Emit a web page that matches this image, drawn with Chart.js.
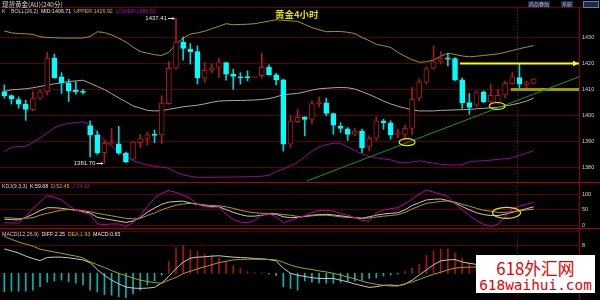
<!DOCTYPE html>
<html>
<head>
<meta charset="utf-8">
<title>黄金4小时</title>
<script src="https://cdn.jsdelivr.net/npm/chart.js@4.4.1/dist/chart.umd.min.js"></script>
<style>
  html, body { margin: 0; padding: 0; background: #000; }
  body { width: 600px; height: 300px; position: relative; overflow: hidden; font-family: "Liberation Sans", Arial, sans-serif; }
  canvas { position: absolute; left: 0; }
  .txt { position: absolute; white-space: nowrap; line-height: 1; }
  .lbl { position: absolute; left: 2px; white-space: nowrap; line-height: 1; font-size: 5.3px; word-spacing: 1.2px; color: #d0d0d0; }
  .w { color: #e8e8e8; } .y { color: #c8c000; } .m { color: #c000c0; }
  .hline { position: absolute; left: 0; width: 600px; height: 1px; }
  .btn { position: absolute; top: 1px; height: 6px; font: 5px "Noto Sans CJK SC"; line-height: 6px; color: #a8bcdc; background: #1c2c4c; padding: 0 1px; }
</style>
</head>
<body>
<canvas id="mainChart" width="600" height="175" style="top:8px"></canvas>
<canvas id="kdjChart" width="600" height="45" style="top:183px"></canvas>
<canvas id="macdChart" width="600" height="72" style="top:228px"></canvas>

<!-- panel frames -->
<div class="hline" style="top:7px;background:#700000"></div>
<div class="hline" style="top:182px;background:#b00000"></div>
<div class="hline" style="top:228px;background:#b00000"></div>
<div class="hline" style="top:231px;width:579px;background:#500000"></div>
<div style="position:absolute;left:579px;top:7px;width:1px;height:293px;background:#900000"></div>

<!-- header texts -->
<div class="txt" style="left:2px;top:1px;font-size:6.5px;font-family:'Noto Sans CJK SC';color:#d8d8d8">现货黄金(AU)(240分)</div>
<div class="btn" style="left:528px">商品叠加</div>
<div class="btn" style="left:561px">系统</div>
<div style="position:absolute;left:583px;top:1px;width:14px;height:5px;border:1px solid #6c7ca0;background:#1c2c4c"></div>

<div class="lbl" style="top:9.4px">K &nbsp;BOLL(26,2) <span class="w">MID:1406.71</span> <span class="y">UPPER:1426.92</span> <span class="m">LOWER:1386.50</span></div>
<div class="txt" style="left:275px;top:9.5px;font-size:9.5px;font-family:'Noto Sans CJK SC';font-weight:bold;color:#e0dc00">黄金4小时</div>
<div class="lbl" style="top:183.7px">KDJ(9,3,3) <span class="w">K:59.68</span> <span class="y">D:52.45</span> <span class="m">J:74.13</span></div>
<div class="lbl" style="top:231.9px">MACD(12,26,9) <span class="w">DIFF:2.25</span> <span class="y">DEA:1.93</span> <span class="w">MACD:0.65</span></div>

<!-- site watermark -->
<div style="position:absolute;left:476px;top:255px;width:119px;height:38px;background:#fff;text-align:center;color:#e60000">
  <div class="txt" style="left:0;width:119px;top:4.5px;font-size:16.8px;font-family:'Noto Sans CJK SC'">618外汇网</div>
  <div class="txt" style="left:0;width:119px;top:22.8px;font-size:14.4px;font-family:'DejaVu Sans Mono'">618waihui.com</div>
</div>

<script>
// 4h candles (index 0 = leftmost)
const opens  = [1409.2,1407.7,1406.2,1404.4,1402.3,1406.7,1409.2,1422.1,1414.9,1412.6,
                1409.9,1409.1,1396.2,1392.6,1385.8,1389.2,1389.2,1385.5,1383.3,1389.6,
                1391.2,1392.6,1392.6,1404.6,1418.2,1428.2,1425.5,1424.6,1414.4,1417.4,
                1418.5,1420.4,1415.9,1414.9,1414.7,1414.6,1415.3,1418.5,1415.7,1413.7,
                1389.0,1397.7,1399.4,1398.5,1404.6,1404.9,1400.8,1395.9,1394.9,1392.8,
                1394.1,1388.0,1391.3,1398.0,1397.1,1392.8,1392.8,1395.1,1406.7,1412.8,
                1418.2,1420.8,1421.9,1421.9,1413.7,1405.0,1404.0,1409.1,1405.3,1405.0,
                1407.9,1412.3,1414.6,1411.8,1412.4];
const highs  = [1411.8,1408.0,1407.2,1405.9,1409.2,1409.8,1424.2,1423.6,1416.5,1414.0,
                1413.0,1410.1,1398.0,1394.1,1390.3,1395.1,1395.9,1386.0,1390.0,1392.8,
                1393.7,1394.5,1407.6,1420.8,1437.41,1430.3,1427.7,1426.8,1420.4,1419.8,
                1422.1,1420.5,1417.8,1416.5,1417.2,1414.8,1423.9,1419.5,1416.2,1414.0,
                1399.9,1402.4,1399.6,1405.7,1407.2,1406.7,1401.0,1397.3,1395.4,1395.0,
                1394.8,1392.2,1399.5,1398.6,1398.0,1394.8,1396.4,1410.8,1414.0,1418.7,
                1426.8,1424.6,1423.9,1422.3,1414.4,1408.5,1409.5,1409.5,1412.1,1410.1,
                1413.3,1416.5,1419.8,1413.3,1414.2];
const lows   = [1406.7,1404.4,1402.8,1398.2,1401.8,1406.2,1407.9,1414.4,1408.5,1405.4,
                1408.2,1408.2,1384.1,1385.1,1381.7,1389.0,1385.1,1381.9,1383.1,1387.7,
                1388.7,1389.6,1389.2,1404.4,1417.8,1421.3,1419.8,1412.1,1412.7,1416.5,
                1414.6,1413.6,1410.1,1412.1,1413.3,1414.5,1414.4,1415.5,1411.8,1386.4,
                1387.7,1397.3,1392.2,1396.7,1403.3,1399.9,1392.8,1393.5,1390.5,1392.2,
                1385.8,1386.4,1390.5,1394.8,1390.9,1391.5,1390.9,1392.8,1405.7,1412.1,
                1417.8,1419.8,1419.1,1413.3,1402.8,1400.5,1403.3,1405.0,1404.6,1404.4,
                1406.9,1412.1,1410.1,1409.8,1412.1];
const closes = [1407.7,1406.4,1404.4,1402.4,1406.7,1409.1,1422.1,1414.6,1412.7,1409.5,
                1409.1,1408.9,1392.6,1385.8,1389.4,1389.6,1385.6,1382.2,1389.8,1391.2,
                1392.6,1392.4,1404.8,1418.2,1428.2,1425.8,1424.6,1414.6,1417.4,1418.3,
                1420.4,1415.9,1415.1,1414.5,1414.6,1414.7,1418.5,1415.7,1413.7,1389.0,
                1398.0,1399.3,1398.5,1404.6,1405.1,1400.8,1396.3,1395.1,1392.8,1394.1,
                1387.7,1391.3,1398.0,1397.3,1392.6,1393.5,1395.1,1406.3,1413.1,1418.1,
                1420.8,1421.9,1421.7,1413.7,1405.0,1403.1,1409.1,1405.3,1407.8,1407.8,
                1412.4,1414.9,1412.1,1412.7,1414.0];

// BOLL(26,2)
const bollUpper = [1432.5,1431.8,1431.5,1431.4,1431.2,1430.3,1430.0,1429.9,1429.8,1429.8,
                   1429.8,1429.8,1430.4,1432.2,1431.9,1431.0,1429.7,1428.3,1426.3,1424.6,
                   1424.0,1423.4,1423.1,1424.3,1427.5,1429.8,1431.3,1431.8,1432.4,1433.4,
                   1434.3,1435.3,1434.9,1435.0,1435.1,1435.3,1435.8,1436.3,1436.8,1436.6,
                   1436.4,1436.2,1435.0,1433.8,1433.0,1432.2,1432.3,1432.3,1432.0,1431.5,
                   1430.0,1428.8,1427.4,1426.8,1426.2,1424.3,1422.8,1421.5,1420.5,1420.7,
                   1421.3,1422.8,1424.0,1423.5,1422.9,1422.6,1422.8,1423.1,1423.4,1423.7,
                   1424.3,1425.0,1425.7,1426.3,1426.92];
const bollMid   = [1409.3,1409.9,1410.1,1410.3,1410.7,1411.2,1411.7,1412.2,1412.6,1413.1,
                   1413.3,1413.6,1412.4,1411.2,1410.0,1408.4,1406.8,1405.3,1403.7,1402.9,
                   1402.0,1401.8,1401.9,1402.4,1402.9,1403.4,1403.7,1404.0,1404.5,1405.1,
                   1405.6,1405.7,1405.8,1405.8,1405.9,1406.0,1406.2,1406.5,1407.2,1408.0,
                   1408.3,1408.5,1409.1,1409.8,1410.3,1410.5,1410.7,1410.8,1410.7,1410.2,
                   1409.2,1408.1,1406.9,1405.6,1404.5,1403.6,1402.9,1402.2,1401.8,1401.8,
                   1401.8,1402.0,1402.1,1402.2,1402.3,1402.4,1402.6,1402.8,1403.0,1403.2,
                   1403.7,1404.2,1404.8,1405.6,1406.71];
const bollLower = [1386.1,1387.8,1388.1,1388.2,1389.6,1391.5,1393.3,1395.3,1396.4,1397.0,
                   1397.3,1397.6,1396.5,1393.7,1390.5,1388.3,1386.0,1384.3,1382.6,1381.8,
                   1381.1,1380.5,1380.2,1379.8,1378.3,1377.2,1376.7,1376.3,1376.3,1376.3,
                   1376.4,1376.4,1376.4,1376.5,1376.5,1376.6,1376.7,1377.1,1378.5,1379.5,
                   1380.7,1382.1,1384.2,1386.3,1388.0,1388.8,1389.4,1389.4,1388.0,1386.6,
                   1385.3,1384.3,1383.8,1383.4,1383.0,1382.1,1381.9,1382.2,1382.6,1382.2,
                   1381.7,1381.3,1381.1,1381.0,1381.2,1382.2,1382.5,1382.7,1382.9,1383.2,
                   1383.4,1383.8,1384.7,1385.6,1386.50];

// KDJ(9,3,3)
const kValues = [20,19,18,26,36,48,57,57,55,52, 49,45,40,26,22,18,14,10,14,25,
                 43,56,68,75,77,78,72,68,63,61, 60,51,42,35,30,30,33,37,36,28,
                 25,26,29,33,35,36,34,31,28,25, 23,28,33,37,39,41,50,64,73,82,
                 84,85,80,72,61,50,41,35,32,32, 36,42,48,54,59.68];
const dValues = [25,24,22,23,25,33,39,44,49,51, 50,47,44,39,35,31,27,23,21,23,
                 32,40,50,58,65,69,71,69,66,64, 63,60,55,49,44,41,39,39,38,35,
                 33,29,29,31,33,33,31,28,26,25, 23,24,27,30,32,35,42,53,62,71,
                 74,77,79,75,68,62,55,49,46,42, 42,44,47,50,52.45];
const jValues = [9,8,8,28,55,75,96,90,82,63, 50,42,36,5,3,5,5,-3,9,32,
                 61,88,103,112,106,97,87,68,60,58, 60,37,19,11,9,16,35,37,28,9,
                 16,24,32,41,48,49,46,39,33,25, 16,14,40,49,54,57,70,84,100,114,
                 107,100,93,70,50,32,16,4,-3,4, 27,54,62,68,74.13];

// MACD(12,26,9)
const diffValues = [7.1,6.5,5.9,5.0,4.3,3.7,4.6,4.7,4.7,4.5, 4.2,3.9,3.1,1.1,-0.6,-2.0,-3.1,-4.0,-4.3,-4.4,
                    -4.3,-4.1,-2.8,-0.9,1.4,3.2,4.4,4.7,4.8,5.0, 5.1,4.9,4.7,4.6,4.5,4.3,4.2,4.0,3.6,1.5,
                    0.0,-0.6,-0.9,-1.3,-1.5,-1.5,-1.5,-2.0,-2.5,-3.1, -3.6,-4.1,-3.9,-3.5,-3.4,-3.6,-3.2,-2.0,-0.5,1.0,
                    2.5,3.6,3.9,4.0,3.3,2.9,2.6,2.4,2.3,2.2, 2.1,2.1,2.2,2.2,2.25];
const deaValues  = [10.7,9.9,9.1,8.5,7.9,7.0,6.6,6.2,5.8,5.4, 5.0,4.5,3.3,2.5,1.7,0.8,0.0,-0.7,-1.4,-2.0,
                    -2.4,-2.7,-2.9,-2.0,-1.2,-0.1,0.6,1.3,1.9,2.5, 3.1,3.5,3.9,4.0,4.1,4.1,4.1,4.0,3.9,3.2,
                    2.4,1.8,1.4,1.1,0.7,0.4,0.0,-0.5,-1.1,-1.6, -2.3,-2.8,-3.2,-3.5,-3.7,-3.7,-3.1,-2.5,-1.8,-1.0,
                    -0.3,0.3,1.0,1.5,1.7,1.8,1.85,1.9,1.9,1.9, 1.9,1.9,1.9,1.92,1.93];
const macdBars   = [-5.4,-5.2,-5.2,-5.2,-4.9,-3.9,-2.6,-2.2,-2.0,-2.4, -2.9,-3.4,-4.9,-5.4,-6.2,-6.4,-6.8,-7.1,-5.9,-4.9,
                    -3.4,-2.2,-0.5,3.4,7.5,8.1,6.8,6.4,5.6,5.2, 4.4,3.4,2.2,1.5,0.5,0.2,0.1,-0.2,-0.7,-3.9,
                    -4.4,-4.9,-2.2,-2.6,-2.8,-2.9,-2.9,-2.6,-2.4,-2.2, -2.0,-1.5,-1.3,-0.8,-0.5,-0.2,0.5,1.5,2.6,5.2,
                    6.5,7.1,7.1,5.9,4.4,3.1,2.0,1.0,0.3,-0.3, -0.2,0.2,0.4,0.5,0.65];

// axis ticks
const priceTicks = [1380, 1390, 1400, 1410, 1420, 1430];
const kdjTicks = [0, 20, 50, 80, 100];
const macdTicks = [8];

// hand-drawn annotations (in candle-index / price units)
const trendX = [42.3, 80.33], trendY = [1374.9, 1414.9];
const resistX = [63.7, 80.33], resistLevel = 1420;
const supportX = [70.8, 80.33], supportLevel = 1410;
const markIdx = [56.3, 68.9], markPrice = [1389.8, 1403.7];
const kdjMarkIdx = 70.2, kdjMarkValue = 40.7;
const cursorIdx = 71.6;

const UP = '#b01818', DOWN = '#00ffff', DOWN_WICK = '#00d4d4';
const GRID = '#5c0000';
const X_MIN = -0.6, X_MAX = 80.33;

const idx = opens.map((_, i) => i);
const isUp = i => closes[i] >= opens[i];
const pts = arr => arr.map((v, i) => ({ x: i, y: v }));

Chart.defaults.font.family = '"Liberation Sans", Arial, sans-serif';

function xAxis() {
  return { type: 'linear', min: X_MIN, max: X_MAX, display: false, offset: false };
}
function rightAxis(min, max, ticks) {
  return {
    position: 'right', min: min, max: max,
    afterBuildTicks: s => { s.ticks = ticks.map(v => ({ value: v })); },
    afterFit: s => { s.width = 21; s.paddingTop = 0; s.paddingBottom = 0; },
    grid: { color: GRID, lineWidth: 1, drawTicks: false },
    border: { display: false },
    ticks: { color: '#d0d0d0', padding: 3, font: { size: 5.5 }, callback: v => String(v) }
  };
}
const baseOptions = {
  responsive: false, maintainAspectRatio: false, animation: false, events: [],
  layout: { padding: 0, autoPadding: false },
  plugins: { legend: { display: false }, tooltip: { enabled: false } }
};

// dotted cursor line shared by all three panels
const cursorLine = {
  id: 'cursorLine',
  beforeDatasetsDraw(chart) {
    const { ctx, scales: { x } } = chart;
    const px = Math.round(x.getPixelForValue(cursorIdx)) + 0.5;
    ctx.save();
    ctx.strokeStyle = '#a00000';
    ctx.setLineDash([1, 2]);
    ctx.beginPath(); ctx.moveTo(px, 0); ctx.lineTo(px, chart.height); ctx.stroke();
    ctx.restore();
  }
};

const mainMarks = {
  id: 'mainMarks',
  afterDatasetsDraw(chart) {
    const { ctx, scales: { x, y } } = chart;
    ctx.save();
    // arrow head at the end of the 1420 line
    const ax = x.getPixelForValue(resistX[1]) - 1, ay = y.getPixelForValue(resistLevel);
    ctx.fillStyle = '#ffff00';
    ctx.beginPath(); ctx.moveTo(ax, ay); ctx.lineTo(ax - 5, ay - 3); ctx.lineTo(ax - 5, ay + 3); ctx.closePath(); ctx.fill();
    // yellow circles
    ctx.strokeStyle = '#f0e400'; ctx.lineWidth = 1.2;
    markIdx.forEach((xi, k) => {
      ctx.beginPath();
      ctx.ellipse(x.getPixelForValue(xi), y.getPixelForValue(markPrice[k]), 8, 3.5, 0, 0, Math.PI * 2);
      ctx.stroke();
    });
    // highest / lowest price tags
    const hi = highs.indexOf(Math.max(...highs));
    const lo = lows.indexOf(Math.min(...lows));
    ctx.font = '6px "Liberation Sans"';
    ctx.fillStyle = '#e0e0e0'; ctx.strokeStyle = '#e0e0e0'; ctx.lineWidth = 1;
    ctx.textAlign = 'right'; ctx.textBaseline = 'middle';
    [[hi, highs[hi]], [lo, lows[lo]]].forEach(([i, p]) => {
      const cx = x.getPixelForValue(i), cy = Math.round(y.getPixelForValue(p)) + 0.5;
      ctx.fillText(p.toFixed(2), cx - 9, cy);
      ctx.beginPath(); ctx.moveTo(cx - 8, cy); ctx.lineTo(cx - 2, cy); ctx.stroke();
      ctx.beginPath(); ctx.moveTo(cx - 1, cy); ctx.lineTo(cx - 3.5, cy - 1.5); ctx.lineTo(cx - 3.5, cy + 1.5); ctx.closePath(); ctx.fill();
    });
    ctx.restore();
  }
};

new Chart(document.getElementById('mainChart'), {
  type: 'bar',
  data: {
    datasets: [
      { type: 'line', data: pts(bollUpper), borderColor: '#a09c00', borderWidth: 1, pointRadius: 0, order: 6 },
      { type: 'line', data: pts(bollMid), borderColor: '#a8a8a8', borderWidth: 1, pointRadius: 0, order: 6 },
      { type: 'line', data: pts(bollLower), borderColor: '#a000a0', borderWidth: 1, pointRadius: 0, order: 6 },
      { data: idx.map(i => ({ x: i, y: [lows[i], highs[i]] })),
        backgroundColor: idx.map(i => isUp(i) ? UP : DOWN_WICK),
        barThickness: 1, grouped: false, order: 4 },
      { data: idx.map(i => ({ x: i, y: [opens[i], closes[i]] })),
        backgroundColor: idx.map(i => isUp(i) ? '#000000' : DOWN),
        borderColor: idx.map(i => isUp(i) ? UP : DOWN),
        borderWidth: 1, borderSkipped: false, minBarLength: 1,
        barThickness: 5, grouped: false, order: 3 },
      { type: 'line', data: trendX.map((v, k) => ({ x: v, y: trendY[k] })), borderColor: '#109c10', borderWidth: 1, pointRadius: 0, order: 1 },
      { type: 'line', data: supportX.map(v => ({ x: v, y: supportLevel })), borderColor: '#a09800', borderWidth: 3, pointRadius: 0, order: 1 },
      { type: 'line', data: resistX.map(v => ({ x: v, y: resistLevel })), borderColor: '#ffff00', borderWidth: 2, pointRadius: 0, order: 0 }
    ]
  },
  options: Object.assign({}, baseOptions, {
    scales: { x: xAxis(), y: rightAxis(1374.12, 1441.33, priceTicks) }
  }),
  plugins: [cursorLine, mainMarks]
});

const kdjMark = {
  id: 'kdjMark',
  afterDatasetsDraw(chart) {
    const { ctx, scales: { x, y } } = chart;
    ctx.save();
    ctx.strokeStyle = '#f0e400'; ctx.lineWidth = 1.2;
    ctx.beginPath();
    ctx.ellipse(x.getPixelForValue(kdjMarkIdx), y.getPixelForValue(kdjMarkValue), 14, 5.5, 0, 0, Math.PI * 2);
    ctx.stroke();
    ctx.restore();
  }
};

new Chart(document.getElementById('kdjChart'), {
  type: 'line',
  data: {
    datasets: [
      { data: pts(jValues), borderColor: '#b800b8', borderWidth: 1, pointRadius: 0 },
      { data: pts(dValues), borderColor: '#a8a400', borderWidth: 1, pointRadius: 0 },
      { data: pts(kValues), borderColor: '#c8c8c8', borderWidth: 1, pointRadius: 0 }
    ]
  },
  options: Object.assign({}, baseOptions, {
    scales: { x: xAxis(), y: rightAxis(-8.0, 136.2, kdjTicks) }
  }),
  plugins: [cursorLine, kdjMark]
});

new Chart(document.getElementById('macdChart'), {
  type: 'bar',
  data: {
    datasets: [
      { data: pts(macdBars), backgroundColor: macdBars.map(v => v >= 0 ? '#b01010' : '#00b4b4'),
        barThickness: 1, grouped: false, order: 3 },
      { type: 'line', data: pts(deaValues), borderColor: '#a8a400', borderWidth: 1, pointRadius: 0, order: 1 },
      { type: 'line', data: pts(diffValues), borderColor: '#c8c8c8', borderWidth: 1, pointRadius: 0, order: 1 }
    ]
  },
  options: Object.assign({}, baseOptions, {
    scales: { x: xAxis(), y: rightAxis(-7.77, 13.18, macdTicks) }
  }),
  plugins: [cursorLine]
});
</script>
</body>
</html>
